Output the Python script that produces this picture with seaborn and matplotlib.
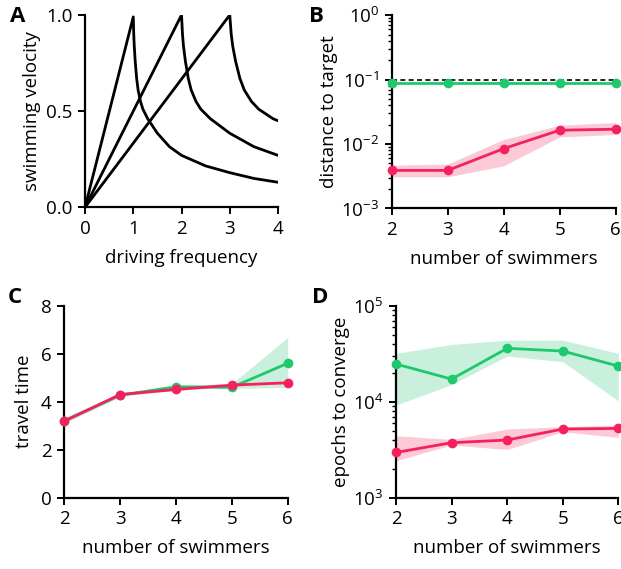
import numpy as np
import pandas as pd
import matplotlib
matplotlib.use("Agg")
import matplotlib.pyplot as plt
import matplotlib.ticker as mticker
import seaborn as sns

# ---- panel A: swimming velocity vs driving frequency
freq_1 = [0, 1, 1.01, 1.02, 1.04, 1.07, 1.1, 1.15, 1.2, 1.3, 1.5, 1.75, 2, 2.5, 3, 3.5, 4]
vel_1 = [0, 0.99, 0.9, 0.84, 0.76, 0.67, 0.61, 0.55, 0.51, 0.46, 0.385, 0.315, 0.27, 0.215, 0.18, 0.15, 0.13]
freq_2 = [0, 2, 2.02, 2.04, 2.08, 2.14, 2.2, 2.3, 2.4, 2.6, 3, 3.5, 4]
vel_2 = [0, 1, 0.9, 0.84, 0.76, 0.67, 0.61, 0.55, 0.51, 0.46, 0.385, 0.315, 0.27]
freq_3 = [0, 3, 3.03, 3.06, 3.12, 3.21, 3.3, 3.45, 3.6, 3.9, 4]
vel_3 = [0, 1, 0.9, 0.84, 0.76, 0.67, 0.61, 0.55, 0.51, 0.46, 0.45]

swimmers = [2, 3, 4, 5, 6]

# ---- panel B: distance to target
dist_green = [0.090, 0.090, 0.090, 0.090, 0.090]
dist_green_lo = [0.087, 0.087, 0.087, 0.087, 0.087]
dist_green_hi = [0.093, 0.093, 0.093, 0.093, 0.093]
dist_pink = [0.0039, 0.0039, 0.0085, 0.0164, 0.0170]
dist_pink_lo = [0.0031, 0.0031, 0.0046, 0.0129, 0.0141]
dist_pink_hi = [0.0047, 0.0049, 0.0118, 0.0196, 0.0216]
dist_target = 0.1

# ---- panel C: travel time
time_green = [3.2, 4.27, 4.62, 4.6, 5.6]
time_green_lo = [3.1, 4.2, 4.55, 4.55, 4.6]
time_green_hi = [3.35, 4.35, 4.7, 4.75, 6.68]
time_pink = [3.19, 4.3, 4.51, 4.69, 4.79]
time_pink_lo = [3.15, 4.25, 4.47, 4.65, 4.75]
time_pink_hi = [3.23, 4.35, 4.55, 4.73, 4.83]

# ---- panel D: epochs to converge
epochs_green = [24700, 17200, 36000, 33700, 23500]
epochs_green_lo = [9200, 15100, 29900, 26100, 10200]
epochs_green_hi = [31900, 39500, 43800, 43800, 31900]
epochs_pink = [2960, 3740, 3990, 5190, 5270]
epochs_pink_lo = [2430, 3550, 3180, 4870, 4250]
epochs_pink_hi = [4430, 4050, 5190, 5490, 5710]

GREEN = "#1fc86b"
PINK = "#f5215e"
GREEN_BAND = "#c9f0dc"
PINK_BAND = "#fcc9d7"
FS = 13.5


def style_axes(ax):
    sns.despine(ax=ax)
    for side in ("left", "bottom"):
        ax.spines[side].set_linewidth(1.6)
        ax.spines[side].set_color("black")
    ax.tick_params(which="major", direction="out", length=5, width=1.4,
                   bottom=True, left=True, colors="black", labelsize=FS, pad=4)
    ax.tick_params(which="minor", direction="out", length=3, width=1.0,
                   bottom=False, left=True, colors="black")


def plot_series(ax, y, lo, hi, color, band):
    ax.fill_between(swimmers, lo, hi, color=band, linewidth=0, zorder=1)
    sns.lineplot(x=swimmers, y=y, ax=ax, color=color, linewidth=2.0,
                 marker="o", markersize=7, markeredgewidth=0, zorder=3,
                 clip_on=False)


def main():
    sns.set_theme(style="white")
    plt.rcParams["font.family"] = ["Open Sans", "DejaVu Sans"]
    plt.rcParams["mathtext.fontset"] = "custom"
    plt.rcParams["mathtext.rm"] = "Open Sans"
    plt.rcParams["text.color"] = "black"
    plt.rcParams["axes.labelcolor"] = "black"

    fig = plt.figure(figsize=(6.21, 5.69), dpi=100)
    ax_a = fig.add_axes([0.1369, 0.6357, 0.3108, 0.338])
    ax_b = fig.add_axes([0.6308, 0.6336, 0.3607, 0.3397])
    ax_c = fig.add_axes([0.1035, 0.1253, 0.3597, 0.3374])
    ax_d = fig.add_axes([0.6377, 0.1253, 0.358, 0.3374])

    # A
    for fx, vy in ((freq_1, vel_1), (freq_2, vel_2), (freq_3, vel_3)):
        sns.lineplot(x=fx, y=vy, ax=ax_a, color="black", linewidth=2.0,
                     sort=False, estimator=None)
    ax_a.set_xlim(0, 4)
    ax_a.set_ylim(0, 1)
    ax_a.set_xticks([0, 1, 2, 3, 4])
    ax_a.set_yticks([0, 0.5, 1.0])
    ax_a.yaxis.set_major_formatter(mticker.FormatStrFormatter("%.1f"))
    ax_a.set_xlabel("driving frequency", fontsize=FS, labelpad=8)
    ax_a.set_ylabel("swimming velocity", fontsize=FS, labelpad=4)
    style_axes(ax_a)

    # B
    plot_series(ax_b, dist_green, dist_green_lo, dist_green_hi, GREEN, GREEN_BAND)
    plot_series(ax_b, dist_pink, dist_pink_lo, dist_pink_hi, PINK, PINK_BAND)
    ax_b.axhline(dist_target, color="black", linestyle=(0, (3, 2)), linewidth=1.2, zorder=2)
    ax_b.set_yscale("log")
    ax_b.set_ylim(1e-3, 1)
    ax_b.set_xlim(2, 6)
    ax_b.set_xticks(swimmers)
    ax_b.set_xlabel("number of swimmers", fontsize=FS, labelpad=8)
    ax_b.set_ylabel("distance to target", fontsize=FS, labelpad=2)
    style_axes(ax_b)

    # C
    plot_series(ax_c, time_green, time_green_lo, time_green_hi, GREEN, GREEN_BAND)
    plot_series(ax_c, time_pink, time_pink_lo, time_pink_hi, PINK, PINK_BAND)
    ax_c.set_ylim(0, 8)
    ax_c.set_xlim(2, 6)
    ax_c.set_xticks(swimmers)
    ax_c.set_yticks([0, 2, 4, 6, 8])
    ax_c.set_xlabel("number of swimmers", fontsize=FS, labelpad=8)
    ax_c.set_ylabel("travel time", fontsize=FS, labelpad=6)
    style_axes(ax_c)

    # D
    plot_series(ax_d, epochs_green, epochs_green_lo, epochs_green_hi, GREEN, GREEN_BAND)
    plot_series(ax_d, epochs_pink, epochs_pink_lo, epochs_pink_hi, PINK, PINK_BAND)
    ax_d.set_yscale("log")
    ax_d.set_ylim(1e3, 1e5)
    ax_d.set_xlim(2, 6)
    ax_d.set_xticks(swimmers)
    ax_d.set_xlabel("number of swimmers", fontsize=FS, labelpad=8)
    ax_d.set_ylabel("epochs to converge", fontsize=FS, labelpad=2)
    style_axes(ax_d)

    for ax in (ax_b, ax_d):
        ax.yaxis.set_minor_locator(mticker.LogLocator(base=10, subs=np.arange(2, 10)))
        ax.yaxis.set_minor_formatter(mticker.NullFormatter())

    for label, (x, y) in zip("ABCD", [(0.016, 0.99), (0.497, 0.99), (0.012, 0.495), (0.503, 0.495)]):
        fig.text(x, y, label, fontsize=16, fontweight="bold", va="top", ha="left")

    fig.savefig("out.png", dpi=100)


if __name__ == "__main__":
    main()
